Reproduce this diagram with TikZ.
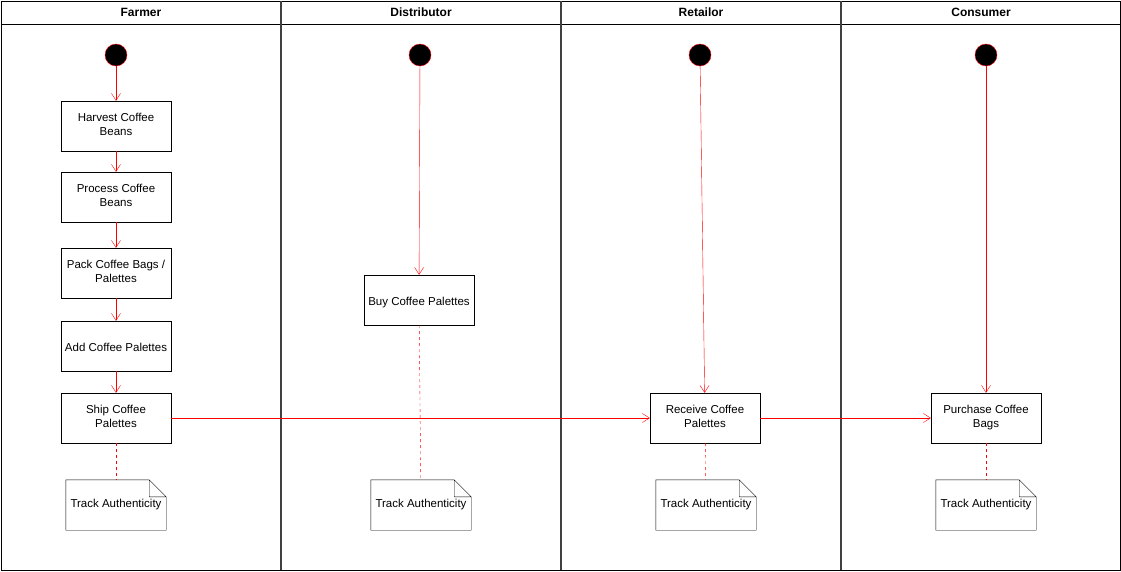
\documentclass[tikz,border=0pt]{standalone}
\usepackage{fontspec}
\setmainfont{Liberation Sans}
\usetikzlibrary{arrows.meta}

\begin{document}
\begin{tikzpicture}[x = 1pt, y = -1pt,
		font = \fontsize{11.5}{14}\selectfont,
		lane/.style = {draw = black!75, line width = 1.4pt},
		head/.style = {font = \fontsize{12}{14}\selectfont\bfseries, text height = 9pt, text depth = 2.5pt},
		start/.style = {circle, draw = red, fill = black, minimum size = 22pt, inner sep = 0pt},
		box/.style = {draw = black, fill = white, minimum width = 110pt, minimum height = 50pt, align = center, inner sep = 1pt,
			execute at begin node = \rule{0pt}{14pt}, execute at end node = \rule[-3pt]{0pt}{3pt}},
		note/.style = {fill = white, minimum width = 100pt, minimum height = 50pt, inner sep = 1pt},
		flow/.style = {red, -{Straight Barb[length = 7pt, width = 9pt]}},
		link/.style = {red, dashed, dash pattern = on 3pt off 3pt}]
	\useasboundingbox (0, 0) rectangle (1121, 571);
	% lanes
	\draw [black] (1, 1) rectangle (1120, 570);
	\draw [black] (1, 24) -- (1120, 24);
	\draw [lane] (281, 1) -- (281, 570);
	\draw [lane] (561, 1) -- (561, 570);
	\draw [lane] (841, 1) -- (841, 570);
	\node (headF) at (141, 13.5) [head] {Farmer};
	\node (headD) at (421, 13.5) [head] {Distributor};
	\node (headR) at (701, 13.5) [head] {Retailor};
	\node (headC) at (981, 13.5) [head] {Consumer};
	% farmer
	\node (startF) at (116, 55) [start] {};
	\node (harvest) at (116, 126) [box] {Harvest Coffee\\Beans};
	\node (process) at (116, 197) [box] {Process Coffee\\Beans};
	\node (pack) at (116, 273) [box] {Pack Coffee Bags /\\Palettes};
	\node (add) at (116, 346) [box] {Add Coffee Palettes};
	\node (ship) at (116, 418) [box] {Ship Coffee\\Palettes};
	\node (noteF) at (116, 505) [note] {Track Authenticity};
	% distributor
	\node (startD) at (420, 55) [start] {};
	\node (buy) at (419, 300) [box] {Buy Coffee Palettes};
	\node (noteD) at (421, 505) [note] {Track Authenticity};
	% retailor
	\node (startR) at (700, 55) [start] {};
	\node (receive) at (705, 418) [box] {Receive Coffee\\Palettes};
	\node (noteR) at (706, 505) [note] {Track Authenticity};
	% consumer
	\node (startC) at (986, 55) [start] {};
	\node (purchase) at (986, 418) [box] {Purchase Coffee\\Bags};
	\node (noteC) at (986, 505) [note] {Track Authenticity};
	% notes with folded corner
	\foreach \n in {noteF, noteD, noteR, noteC}
		\draw [black] (\n.south west) -- (\n.north west) -- ([xshift = -17pt] \n.north east) -- ([yshift = -17pt] \n.north east) -- (\n.south east) -- cycle
			([xshift = -17pt] \n.north east) -- ([xshift = -17pt, yshift = -17pt] \n.north east) -- ([yshift = -17pt] \n.north east);
	% flows
	\draw [flow] (startF) -- (harvest);
	\draw [flow] (harvest) -- (process);
	\draw [flow] (process) -- (pack);
	\draw [flow] (pack) -- (add);
	\draw [flow] (add) -- (ship);
	\draw [flow] (startD) -- (buy);
	\draw [flow] (startR) -- (receive);
	\draw [flow] (startC) -- (purchase);
	\draw [flow] (ship) -- (receive);
	\draw [flow] (receive) -- (purchase);
	% dashed links
	\draw [link] (ship) -- (noteF);
	\draw [link] (buy) -- (noteD);
	\draw [link] (receive) -- (noteR);
	\draw [link] (purchase) -- (noteC);
\end{tikzpicture}
\end{document}
